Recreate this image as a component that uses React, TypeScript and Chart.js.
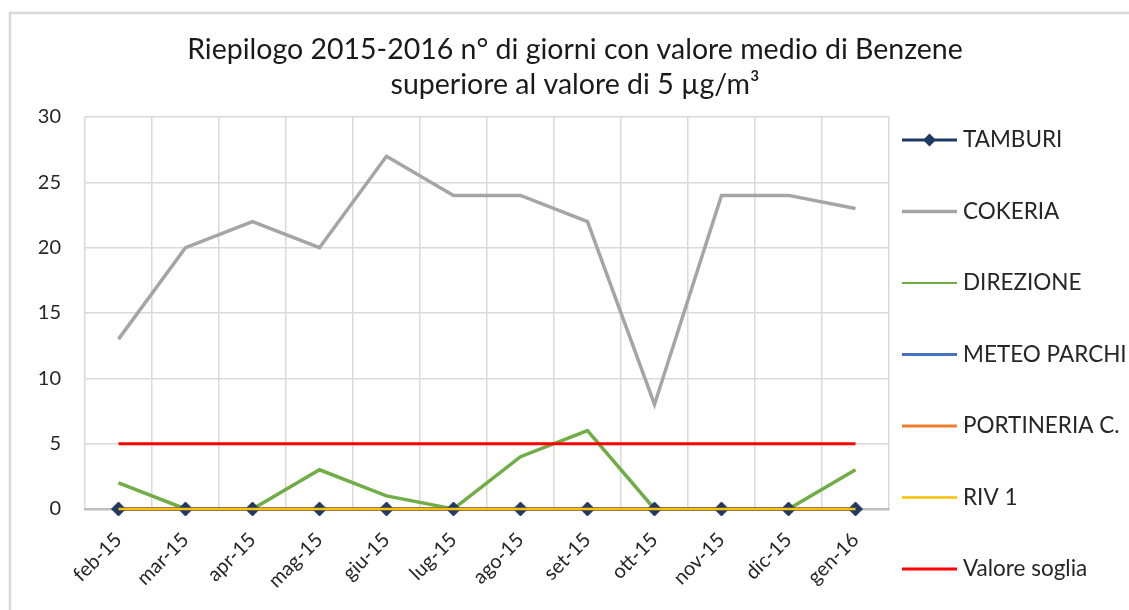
import React, { useEffect, useRef } from "react";
import { Chart, registerables } from "chart.js";

Chart.register(...registerables);

const categories = ["feb-15", "mar-15", "apr-15", "mag-15", "giu-15", "lug-15", "ago-15", "set-15", "ott-15", "nov-15", "dic-15", "gen-16"];
const tamburi = [0, 0, 0, 0, 0, 0, 0, 0, 0, 0, 0, 0];
const cokeria = [13, 20, 22, 20, 27, 24, 24, 22, 8, 24, 24, 23];
const direzione = [2, 0, 0, 3, 1, 0, 4, 6, 0, 0, 0, 3];
const meteoParchi = [0, 0, 0, 0, 0, 0, 0, 0, 0, 0, 0, 0];
const portineriaC = [0, 0, 0, 0, 0, 0, 0, 0, 0, 0, 0, 0];
const riv1 = [0, 0, 0, 0, 0, 0, 0, 0, 0, 0, 0, 0];
const valoreSoglia = [5, 5, 5, 5, 5, 5, 5, 5, 5, 5, 5, 5];
const yTicks = [0, 5, 10, 15, 20, 25, 30];
const titleLines = ["Riepilogo 2015-2016 n° di giorni con valore medio di Benzene", "superiore al valore di 5 µg/m³"];

const FONT = "Lato, 'Open Sans', sans-serif";

const framePlugin = {
  id: "frame",
  beforeDraw(chart: any) {
    const ctx = chart.ctx;
    ctx.save();
    ctx.fillStyle = "#ffffff";
    ctx.fillRect(0, 0, chart.width, chart.height);
    ctx.strokeStyle = "#d9d9d9";
    ctx.lineWidth = 2.5;
    ctx.strokeRect(10, 13, chart.width + 20, chart.height + 20);
    ctx.restore();
  },
};

const legendPlugin = {
  id: "customLegend",
  afterDraw(chart: any) {
    const ctx = chart.ctx;
    const area = chart.chartArea;
    const x0 = area.right + 13;
    const x1 = x0 + 55;
    const startY = area.top + 23;
    const step = 71.5;
    ctx.save();
    chart.data.datasets.forEach((ds: any, i: number) => {
      const y = startY + i * step;
      ctx.strokeStyle = ds.borderColor;
      ctx.lineWidth = ds.legendWidth || 3;
      ctx.beginPath();
      ctx.moveTo(x0, y);
      ctx.lineTo(x1, y);
      ctx.stroke();
      if (ds.pointRadius > 0) {
        const r = 6.5;
        const cx = (x0 + x1) / 2;
        ctx.fillStyle = ds.pointBackgroundColor;
        ctx.beginPath();
        ctx.moveTo(cx - r, y);
        ctx.lineTo(cx, y - r);
        ctx.lineTo(cx + r, y);
        ctx.lineTo(cx, y + r);
        ctx.closePath();
        ctx.fill();
      }
      ctx.fillStyle = "#262626";
      ctx.font = `22.5px ${FONT}`;
      ctx.textBaseline = "middle";
      ctx.textAlign = "left";
      ctx.fillText(ds.label, x1 + 6, y);
    });
    ctx.restore();
  },
};

export default function App() {
  const ref = useRef<HTMLCanvasElement>(null);
  useEffect(() => {
    if (!ref.current) return;
    const line = (label: string, data: number[], color: string, width: number, order: number, extra: any = {}) => ({
      label,
      data,
      borderColor: color,
      backgroundColor: color,
      borderWidth: width,
      legendWidth: width,
      pointRadius: 0,
      tension: 0,
      clip: false,
      order,
      ...extra,
    });
    const chart = new Chart(ref.current, {
      type: "line",
      data: {
        labels: categories,
        datasets: [
          line("TAMBURI", tamburi, "#203864", 3, 2, {
            pointRadius: 7,
            pointStyle: "rectRot",
            pointBackgroundColor: "#203864",
            pointBorderColor: "#203864",
            pointBorderWidth: 1,
          }),
          line("COKERIA", cokeria, "#a5a5a5", 3.5, 6),
          line("DIREZIONE", direzione, "#70ad47", 3.5, 5, { legendWidth: 2 }),
          line("METEO PARCHI", meteoParchi, "#4472c4", 3, 4),
          line("PORTINERIA C.", portineriaC, "#ed7d31", 3, 3),
          line("RIV 1", riv1, "#ffc000", 2.5, 1),
          line("Valore soglia", valoreSoglia, "#ff0000", 3, 0),
        ] as any,
      },
      options: {
        animation: false,
        responsive: false,
        events: [],
        layout: { padding: { left: 21, right: 0, top: 0, bottom: 0 } },
        plugins: {
          legend: { display: false },
          tooltip: { enabled: false },
          title: {
            display: true,
            text: titleLines,
            color: "#1a1a1a",
            font: { family: FONT, size: 28.5, weight: "normal", lineHeight: 35 / 28.5 },
            padding: { top: 32.5, bottom: 14.5 },
          },
        },
        scales: {
          x: {
            type: "category",
            offset: true,
            grid: { offset: true, color: "#d9d9d9", lineWidth: 1.5, drawTicks: false },
            border: { color: "#bfbfbf", width: 2.5 },
            ticks: {
              color: "#262626",
              font: { family: FONT, size: 20 },
              minRotation: 45,
              maxRotation: 45,
              padding: 19,
              autoSkip: false,
            },
            afterFit(scale: any) {
              scale.height = 101;
            },
          },
          y: {
            min: 0,
            max: 30,
            afterBuildTicks(scale: any) {
              scale.ticks = yTicks.map((v) => ({ value: v }));
            },
            grid: { color: "#d9d9d9", lineWidth: 1.5, drawTicks: false },
            border: { display: false },
            ticks: {
              color: "#262626",
              font: { family: FONT, size: 20 },
              padding: 24,
            },
            afterFit(scale: any) {
              scale.width = 64;
            },
          },
          legendSpace: {
            type: "linear",
            position: "right",
            display: true,
            grid: { display: false, drawTicks: false },
            border: { display: false },
            ticks: { display: false },
            afterFit(scale: any) {
              scale.width = 240;
            },
          },
        },
      },
      plugins: [framePlugin, legendPlugin],
    });
    return () => chart.destroy();
  }, []);
  return (
    <div style={{ position: "fixed", left: 0, top: 0, width: 1129, height: 610 }}>
      <canvas ref={ref} width={1129} height={610} style={{ width: 1129, height: 610, display: "block" }} />
    </div>
  );
}
